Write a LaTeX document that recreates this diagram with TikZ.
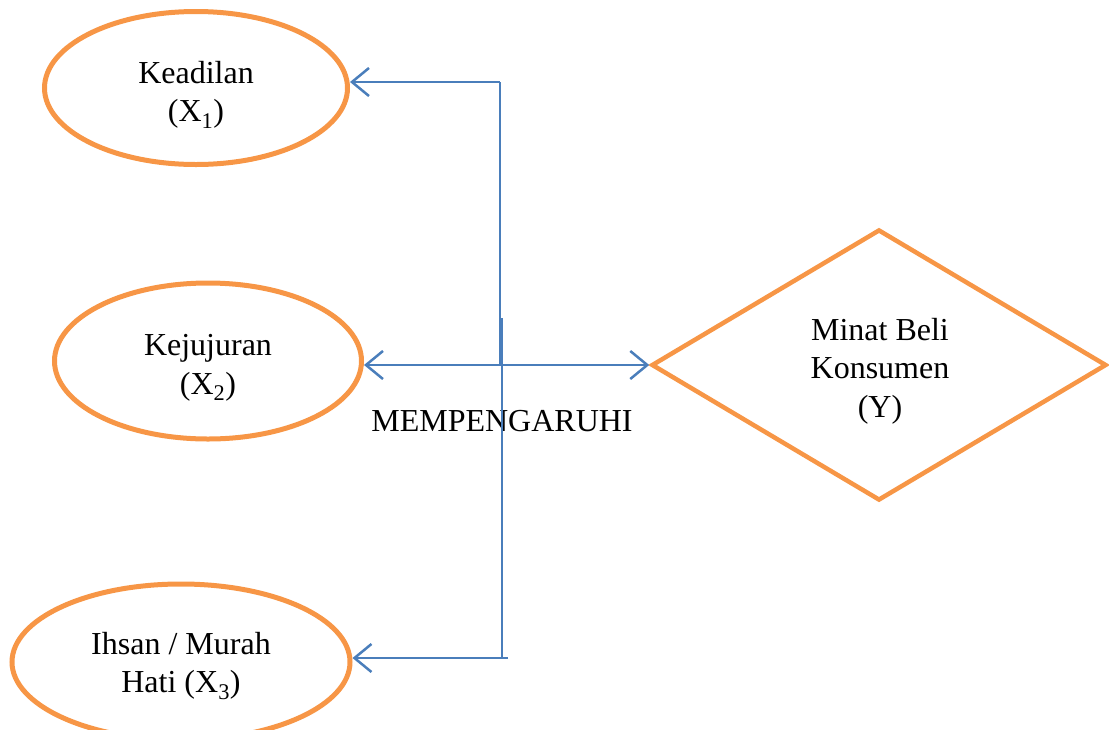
\documentclass[tikz,border=0pt]{standalone}
\usepackage{fontspec}
\setmainfont{Liberation Serif}
\usetikzlibrary{shapes.geometric,arrows.meta}
\definecolor{ora}{HTML}{F79646}
\definecolor{blu}{HTML}{4A7EBB}
\begin{document}
\begin{tikzpicture}[x=1pt,y=-1pt,
  oval/.style={draw=ora,line width=5pt,ellipse,inner sep=0pt},
  rhomb/.style={draw=ora,line width=4.5pt,diamond,inner sep=0pt},
  txt/.style={align=center,inner sep=0pt,font=\fontsize{32}{38.5}\selectfont},
  conn/.style={draw=blu,line width=2.5pt},
  tip/.style={-{Straight Barb[length=17pt,width=28pt,line width=2.5pt]}}]
\useasboundingbox (0,0) rectangle (1109,729);
\node[oval,minimum width=303pt,minimum height=153pt] (e1) at (196,88) {};
\node[oval,minimum width=307pt,minimum height=156pt] (e2) at (208,361) {};
\node[oval,minimum width=338pt,minimum height=156pt] (e3) at (181,662) {};
\node[rhomb,minimum width=455pt,minimum height=271pt] (d) at (879,365) {};
\node[txt] (t1) at (196,95) {Keadilan\\(X\textsubscript{1})};
\node[txt] (t2) at (208,368) {Kejujuran\\(X\textsubscript{2})};
\node[txt] (t3) at (181,666) {Ihsan / Murah\\Hati (X\textsubscript{3})};
\node[txt] (td) at (880,371) {Minat Beli\\Konsumen\\(Y)};
\node[txt] (lab) at (502,421) {MEMPENGARUHI};
\coordinate (j1) at (500,82);
\coordinate (j2) at (500,365);
\coordinate (v2a) at (502,318);
\coordinate (v2b) at (502,658);
\coordinate (j3) at (508,658);
\draw[conn] (j2) -- (j1);
\draw[conn,tip] (j1) -- (e1.east |- j1);
\draw[conn] (v2a) -- (v2b);
\draw[conn,tip] (j3) -- (e3.east |- j3);
\draw[conn,tip] (j2) -- (e2.east |- j2);
\draw[conn,tip] (j2) -- (d.west);
\end{tikzpicture}
\end{document}
